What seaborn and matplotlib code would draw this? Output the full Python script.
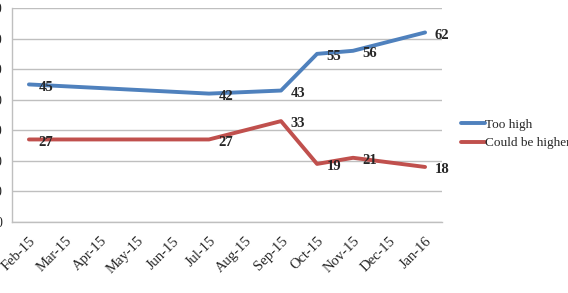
import numpy as np
import pandas as pd
import seaborn as sns
import matplotlib.pyplot as plt
import matplotlib.transforms as mtransforms

months = ["Feb-15", "Mar-15", "Apr-15", "May-15", "Jun-15", "Jul-15",
          "Aug-15", "Sep-15", "Oct-15", "Nov-15", "Dec-15", "Jan-16"]
survey_months = ["Feb-15", "Jul-15", "Sep-15", "Oct-15", "Nov-15", "Jan-16"]
too_high = [45, 42, 43, 55, 56, 62]
could_be_higher = [27, 27, 33, 19, 21, 18]

sns.set_style("white")
plt.rcParams['font.family'] = ['Liberation Serif', 'DejaVu Serif']

pos = [months.index(m) for m in survey_months]
df = pd.DataFrame({
    "pos": pos * 2,
    "value": too_high + could_be_higher,
    "series": ["Too high"] * len(pos) + ["Could be higher"] * len(pos),
})

fig = plt.figure(figsize=(5.68, 2.93), dpi=100)
ax = fig.add_axes([12 / 568, 71 / 293, 430 / 568, 214 / 293])

sns.lineplot(data=df, x="pos", y="value", hue="series",
             palette={"Too high": "#4F81BD", "Could be higher": "#C0504D"},
             linewidth=2.8, ax=ax, legend=True)

for s, vals in [("Too high", too_high), ("Could be higher", could_be_higher)]:
    for p, v in zip(pos, vals):
        ax.annotate(str(v), (p, v), xytext=(7, -2), textcoords="offset points",
                    ha="left", va="center", fontsize=10.5, fontweight="bold")

ax.set_xlim(-0.47, 11.47)
ax.set_ylim(0, 70)
ax.set_yticks(range(0, 71, 10))
ax.set_xticks(range(len(months)))
ax.set_xticklabels(months, rotation=45, ha="right", rotation_mode="anchor", fontsize=10.5)
# nudge the rotated month labels a little to the right, like the original
shift = mtransforms.ScaledTranslation(4 / 100, 0, fig.dpi_scale_trans)
for lab in ax.get_xticklabels():
    lab.set_transform(lab.get_transform() + shift)
ax.tick_params(axis="x", length=0, pad=9)
ax.tick_params(axis="y", length=0, pad=7, labelsize=10)
ax.grid(axis="y", color="#BFBFBF", linewidth=1)
ax.set_axisbelow(True)
for side in ["top", "right"]:
    ax.spines[side].set_visible(False)
for side in ["left", "bottom"]:
    ax.spines[side].set_color("#BFBFBF")
    ax.spines[side].set_linewidth(1)
ax.set_xlabel("")
ax.set_ylabel("")

ax.legend(title=None, frameon=False, loc="center left",
          bbox_to_anchor=(1.044, 0.411), borderaxespad=0, borderpad=0,
          fontsize=9.5, handlelength=1.8, handletextpad=0.05, labelspacing=0.45)

fig.savefig("out.png", dpi=100)
